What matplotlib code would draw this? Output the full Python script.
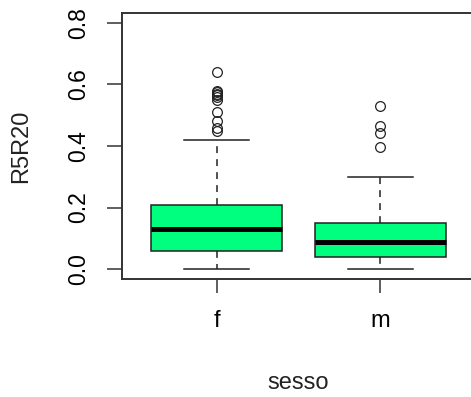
import numpy as np
import matplotlib.pyplot as plt

plt.rcParams['font.family'] = ['Liberation Sans', 'DejaVu Sans']

# valori (R5R20 per sesso)
gruppi = ['f', 'm']
q1 = [0.059, 0.039]
mediana = [0.130, 0.089]
q3 = [0.209, 0.149]
baffo_basso = [0.0, 0.0]
baffo_alto = [0.420, 0.300]
outlier_f = [0.64, 0.58, 0.575, 0.57, 0.565, 0.56, 0.55, 0.51, 0.48, 0.46, 0.45]
outlier_m = [0.529, 0.464, 0.442, 0.398]
outliers = [outlier_f, outlier_m]

stats = []
for i, g in enumerate(gruppi):
    stats.append({'label': g, 'q1': q1[i], 'med': mediana[i], 'q3': q3[i],
                  'whislo': baffo_basso[i], 'whishi': baffo_alto[i],
                  'fliers': outliers[i]})

fig = plt.figure(figsize=(4.71, 3.97), dpi=100)
# l'asse destro esce dall'immagine come nel riferimento
ax = fig.add_axes([122 / 471, (397 - 279) / 397, 353 / 471, 266 / 397])

ax.bxp(stats, positions=[1, 2], widths=0.8, patch_artist=True,
       boxprops=dict(facecolor='#00FF7F', edgecolor='#222222', linewidth=1.1),
       medianprops=dict(color='black', linewidth=3.6, solid_capstyle='butt'),
       whiskerprops=dict(color='#222222', linewidth=1.1, linestyle=(0, (4.5, 4))),
       capprops=dict(color='#222222', linewidth=1.1),
       capwidths=0.4,
       flierprops=dict(marker='o', markerfacecolor='none', markeredgecolor='#222222',
                       markersize=7, markeredgewidth=0.9))

ax.set_xlim(0.42, 2.58)
ax.set_ylim(-0.032, 0.832)
ax.set_yticks([0.0, 0.2, 0.4, 0.6, 0.8])
ax.set_yticklabels(['0.0', '0.2', '0.4', '0.6', '0.8'], rotation=90, va='center')
ax.set_xticks([1, 2])
ax.set_xticklabels(gruppi)

for s in ax.spines.values():
    s.set_color('#333333')
    s.set_linewidth(1.4)

ax.tick_params(axis='y', length=11, width=1.1, color='#333333', labelsize=16.5, pad=12)
ax.tick_params(axis='x', length=10, width=1.1, color='#333333', labelsize=17, pad=12)

ax.set_ylabel('R5R20', fontsize=17, color='#222222', labelpad=25)
ax.set_xlabel('sesso', fontsize=17, color='#222222', labelpad=29)

fig.savefig('out.png', dpi=100)
